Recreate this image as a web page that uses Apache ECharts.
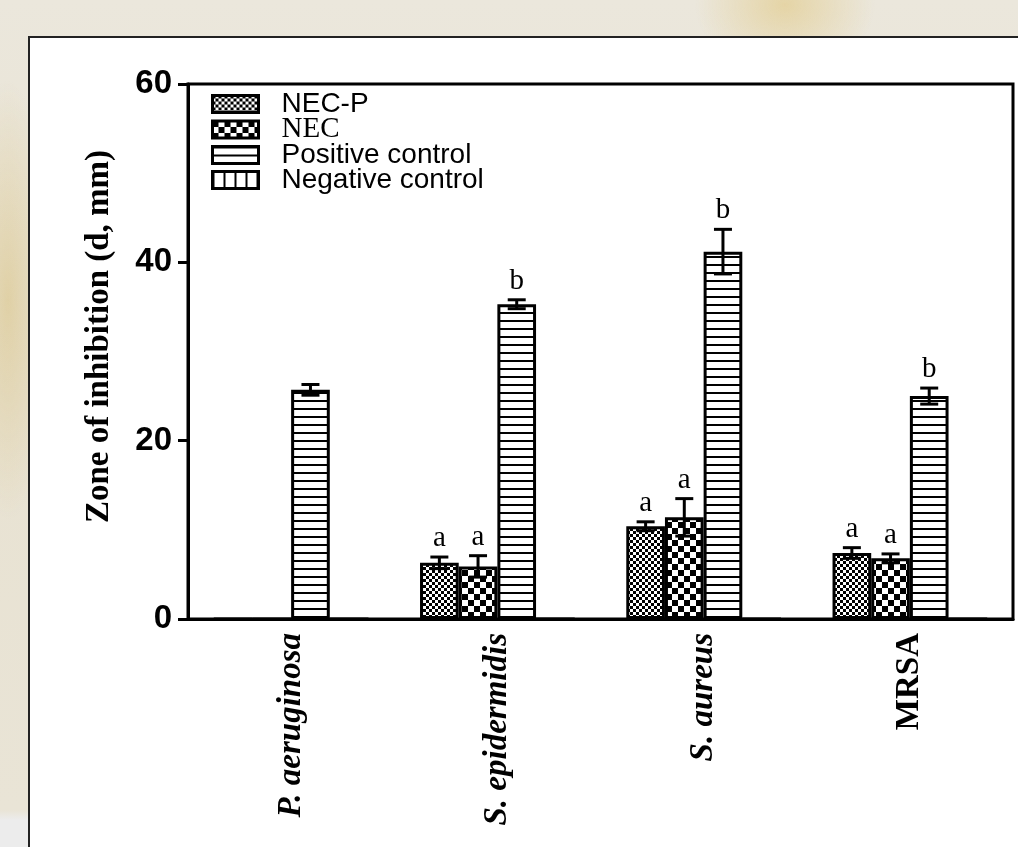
<!DOCTYPE html>
<html>
<head>
<meta charset="utf-8">
<script src="https://cdn.jsdelivr.net/npm/echarts@6/dist/echarts.min.js"></script>
<style>
html,body{margin:0;padding:0;width:1018px;height:847px;overflow:hidden;}
body{
  background:
    radial-gradient(ellipse 90px 70px at 785px 5px, rgba(225,200,130,0.6), rgba(225,200,130,0) 100%),
    radial-gradient(ellipse 45px 220px at 8px 300px, rgba(215,190,120,0.5), rgba(215,190,120,0) 100%),
    linear-gradient(to bottom, #ebe7dc 0px, #e8e2d2 400px, #e9e4d6 810px, #ececec 820px);
}
#panel{position:absolute;left:28px;top:36px;width:1000px;height:820px;background:#fff;border-left:2px solid #222;border-top:2px solid #222;}
#main{position:absolute;left:0;top:0;width:1018px;height:847px;}
</style>
</head>
<body>
<div id="panel"></div>
<div id="main"></div>
<script>
// ---- data ----
const categories = ['P. aeruginosa', 'S. epidermidis', 'S. aureus', 'MRSA'];
const seriesNames = ['NEC-P', 'NEC', 'Positive control', 'Negative control'];
const necP = [0, 6.3, 10.4, 7.4];
const necPErr = [0, 0.65, 0.5, 0.6];
const nec = [0, 5.9, 11.4, 6.8];
const necErr = [0, 1.2, 2.1, 0.5];
const posCtrl = [25.7, 35.3, 41.2, 25.0];
const posCtrlErr = [0.6, 0.5, 2.5, 0.9];
const negCtrl = [0, 0, 0, 0];
const necPLetters = ['', 'a', 'a', 'a'];
const necLetters = ['', 'a', 'a', 'a'];
const posLetters = ['', 'b', 'b', 'b'];
const yTicks = [0, 20, 40, 60];

// ---- patterns ----
function makePattern(kind) {
  const c = document.createElement('canvas');
  let w, h;
  if (kind === 'fine') { w = 6; h = 6; }
  else if (kind === 'coarse') { w = 12; h = 12; }
  else if (kind === 'hlines') { w = 8; h = 8; }
  else { w = 11; h = 8; }
  c.width = w; c.height = h;
  const g = c.getContext('2d');
  g.fillStyle = '#fff'; g.fillRect(0, 0, w, h);
  g.fillStyle = '#000';
  if (kind === 'fine') {
    g.fillRect(0, 0, 3, 3); g.fillRect(3, 3, 3, 3);
  } else if (kind === 'coarse') {
    g.fillRect(0, 0, 6, 6); g.fillRect(6, 6, 6, 6);
  } else if (kind === 'hlines') {
    g.fillRect(0, 0, w, 2);
  } else {
    g.fillRect(0, 0, 2, h);
  }
  return { image: c, repeat: 'repeat' };
}
const patterns = [makePattern('fine'), makePattern('coarse'), makePattern('hlines'), makePattern('vlines')];

const values = [necP, nec, posCtrl, negCtrl];
const errs = [necPErr, necErr, posCtrlErr];
const letters = [necPLetters, necLetters, posLetters];

const barSeries = seriesNames.map((name, k) => ({
  name: name,
  type: 'bar',
  data: values[k],
  barGap: '0%',
  barCategoryGap: '25%',
  itemStyle: { color: patterns[k], borderColor: '#000', borderWidth: 3 },
  emphasis: { disabled: true },
  z: 2
}));

function errSeries(k) {
  return {
    type: 'custom',
    name: 'err' + k,
    z: 5,
    silent: true,
    data: categories.map((c, i) => [i, values[k][i], errs[k][i]]),
    renderItem: function (params, api) {
      const ci = api.value(0), v = api.value(1), e = api.value(2);
      if (!v) return null;
      const base = api.coord([ci, v]);
      const band = api.size([1, 0])[0];
      const bw = band * 0.75 / 4;
      const x = base[0] + (k - 1.5) * bw;
      const yt = api.coord([ci, v + e])[1];
      const yb = api.coord([ci, v - e])[1];
      const half = 9;
      const st = { stroke: '#000', lineWidth: 3 };
      const children = [
        { type: 'line', shape: { x1: x, y1: yt, x2: x, y2: yb }, style: st },
        { type: 'line', shape: { x1: x - half, y1: yt, x2: x + half, y2: yt }, style: st },
        { type: 'line', shape: { x1: x - half, y1: yb, x2: x + half, y2: yb }, style: st }
      ];
      const L = letters[k][params.dataIndex];
      if (L) {
        children.push({
          type: 'text',
          style: {
            text: L, x: x, y: yt - 4,
            align: 'center', verticalAlign: 'bottom',
            font: '29px "Liberation Serif"', fill: '#000'
          }
        });
      }
      return { type: 'group', children: children };
    }
  };
}

const chart = echarts.init(document.getElementById('main'), null, { renderer: 'canvas' });
chart.setOption({
  animation: false,
  backgroundColor: 'transparent',
  grid: {
    left: 188, right: 5, top: 84, bottom: 228,
    show: true, borderColor: '#000', borderWidth: 3, backgroundColor: 'transparent'
  },
  legend: {
    left: 206, top: 85, orient: 'vertical',
    itemWidth: 46, itemHeight: 17, itemGap: -3,
    icon: 'rect',
    selectedMode: false,
    itemStyle: { borderWidth: 3, borderColor: '#000' },
    data: [
      { name: 'NEC-P' },
      { name: 'NEC', textStyle: { fontFamily: 'Liberation Serif', fontSize: 29 } },
      { name: 'Positive control' },
      { name: 'Negative control' }
    ],
    textStyle: {
      fontFamily: 'Liberation Sans', fontSize: 28, color: '#000',
      lineHeight: 26, padding: [0, 0, 0, 18]
    }
  },
  xAxis: {
    type: 'category',
    data: categories.map(c => c === 'MRSA' ? { value: c, textStyle: { fontStyle: 'normal' } } : c),
    axisLine: { lineStyle: { color: '#000', width: 3 } },
    axisTick: { alignWithLabel: true, length: 12, lineStyle: { color: '#000', width: 3 } },
    axisLabel: {
      rotate: 90, margin: 14, color: '#000',
      fontFamily: 'Liberation Serif', fontWeight: 'bold', fontStyle: 'italic', fontSize: 33
    },
    splitLine: { show: false }
  },
  yAxis: {
    type: 'value', min: 0, max: 60, interval: 20,
    name: 'Zone of inhibition (d, mm)',
    nameLocation: 'middle', nameGap: 72,
    nameTextStyle: { fontFamily: 'Liberation Serif', fontWeight: 'bold', fontSize: 33, color: '#000', padding: [0, 0, 0, 30] },
    axisLine: { show: true, lineStyle: { color: '#000', width: 3 } },
    axisTick: { show: true, length: 10, lineStyle: { color: '#000', width: 3 } },
    axisLabel: {
      margin: 16, color: '#000', fontFamily: 'Liberation Sans', fontWeight: 'bold', fontSize: 33,
      formatter: v => yTicks.includes(v) ? String(v) : ''
    },
    splitLine: { show: false }
  },
  series: barSeries.concat([errSeries(0), errSeries(1), errSeries(2)])
});
</script>
</body>
</html>
